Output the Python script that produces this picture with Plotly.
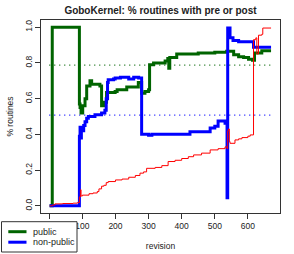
import plotly.graph_objects as go

# ---- data ----
public_rev = [1, 9, 91, 93, 96, 101, 108, 113, 123, 128, 153, 158, 165, 173, 183, 199, 205, 234,
              269, 279, 289, 300, 303, 315, 350, 358, 361, 364, 385, 450, 500, 536, 557, 572, 587,
              602, 614, 620, 642, 670]
public_pct = [0.0, 1.0, 0.57, 0.55, 0.52, 0.56, 0.60, 0.67, 0.70, 0.68, 0.67, 0.56, 0.58, 0.635,
              0.635, 0.64, 0.65, 0.665, 0.69, 0.63, 0.64, 0.65, 0.79, 0.80, 0.81, 0.825, 0.77, 0.83,
              0.85, 0.855, 0.86, 0.865, 0.845, 0.835, 0.83, 0.82, 0.815, 0.855, 0.868, 0.868]

nonpublic_rev = [1, 91, 93, 95, 97, 100, 104, 108, 113, 118, 138, 158, 168, 172, 176, 178, 194,
                 199, 215, 240, 255, 270, 279, 300, 310, 425, 486, 500, 510, 531, 537, 539, 546,
                 555, 572, 617, 670]
nonpublic_pct = [0.0, 0.39, 0.44, 0.38, 0.43, 0.42, 0.45, 0.47, 0.49, 0.50, 0.51, 0.52, 0.535,
                 0.60, 0.69, 0.705, 0.71, 0.715, 0.72, 0.71, 0.72, 0.715, 0.40, 0.395, 0.40, 0.415,
                 0.435, 0.445, 0.475, 0.462, 0.045, 0.995, 0.94, 0.925, 0.918, 0.887, 0.887]

all_rev = [1, 10, 17, 40, 72, 85, 91, 94, 96, 100, 108, 120, 132, 145, 150, 158, 165, 172, 178,
           200, 220, 240, 260, 274, 285, 294, 320, 340, 359, 380, 400, 420, 436, 460, 486, 510,
           531, 537, 539, 541, 544, 546, 561, 572, 582, 600, 607, 617, 624, 627, 632, 642, 645, 670]
all_pct = [0.0, 0.005, 0.011, 0.013, 0.015, 0.018, 0.05, 0.09, 0.055, 0.06, 0.06, 0.068, 0.072,
           0.08, 0.095, 0.11, 0.115, 0.13, 0.136, 0.145, 0.15, 0.16, 0.17, 0.183, 0.19, 0.21,
           0.215, 0.225, 0.248, 0.255, 0.265, 0.275, 0.285, 0.295, 0.313, 0.32, 0.33, 0.32,
           0.42, 0.43, 0.36, 0.35, 0.369, 0.375, 0.382, 0.39, 0.397, 0.93, 0.94, 0.85, 0.955,
           0.96, 0.995, 0.995]

public_mean = 0.788
nonpublic_mean = 0.508
mean_span = [0, 668]

x_ticks = [0, 100, 200, 300, 400, 500, 600]
x_tick_labels = ["", "100", "200", "300", "400", "500", "600"]  # "0" is hidden by the legend box
y_ticks = [0.0, 0.2, 0.4, 0.6, 0.8, 1.0]

series_names = ["public", "non-public"]

title_text = "GoboKernel: % routines with pre or post"
x_title = "revision"
y_title = "% routines"

# ---- style ----
GREEN = "#006400"
BLUE = "#0000ff"
RED = "#ff0000"
FONT = "Liberation Sans, Arial, sans-serif"
W, H = 294, 254
ML, MR, MT, MB = 41, 14, 20, 41
PW, PH = W - ML - MR, H - MT - MB


def px_x(px):
    return (px - ML) / PW


def px_y(py):
    return (H - MB - py) / PH


fig = go.Figure()
fig.add_trace(go.Scatter(x=mean_span, y=[public_mean] * 2, mode="lines",
                         line=dict(color=GREEN, width=1.2, dash="1px,4px"), showlegend=False))
fig.add_trace(go.Scatter(x=mean_span, y=[nonpublic_mean] * 2, mode="lines",
                         line=dict(color=BLUE, width=1.2, dash="1px,4px"), showlegend=False))
fig.add_trace(go.Scatter(x=public_rev, y=public_pct, mode="lines", name=series_names[0],
                         line=dict(color=GREEN, width=3, shape="hv"), showlegend=False))
fig.add_trace(go.Scatter(x=nonpublic_rev, y=nonpublic_pct, mode="lines", name=series_names[1],
                         line=dict(color=BLUE, width=3, shape="hv"), showlegend=False))
fig.add_trace(go.Scatter(x=all_rev, y=all_pct, mode="lines", name="all",
                         line=dict(color=RED, width=1, shape="hv"), showlegend=False))

# manual R-style legend box
shapes = [dict(type="rect", xref="paper", yref="paper",
               x0=px_x(1.5), x1=px_x(77), y0=px_y(252), y1=px_y(221.7),
               line=dict(color="#333333", width=1), fillcolor="white", layer="above")]
annotations = []
for i, (name, col) in enumerate(zip(series_names, [GREEN, BLUE])):
    yy = 231.7 + i * 10.5
    shapes.append(dict(type="line", xref="paper", yref="paper",
                       x0=px_x(8.3), x1=px_x(26.5), y0=px_y(yy), y1=px_y(yy),
                       line=dict(color=col, width=3), layer="above"))
    annotations.append(dict(text=name, xref="paper", yref="paper", x=px_x(31.5), y=px_y(yy),
                            xanchor="left", yanchor="middle", showarrow=False, borderpad=0,
                            font=dict(family=FONT, size=9, color="#222")))

axis_common = dict(showline=True, linecolor="#333333", linewidth=1, mirror=True,
                   ticks="outside", ticklen=5, tickcolor="#333333", showgrid=False,
                   zeroline=False, automargin=False,
                   tickfont=dict(family=FONT, size=8.5, color="#222"))

fig.update_layout(
    width=W, height=H,
    margin=dict(l=ML, r=MR, t=MT, b=MB, autoexpand=False),
    paper_bgcolor="white", plot_bgcolor="white",
    title=dict(text="<b>" + title_text + "</b>", x=160.5 / W,
               xanchor="center", y=1 - 10 / H, yanchor="middle",
               font=dict(family=FONT, size=10, color="#222")),
    xaxis=dict(range=[-25, 697], tickvals=x_ticks, ticktext=x_tick_labels, **axis_common,
               title=dict(text=x_title, standoff=12, font=dict(family=FONT, size=8.5, color="#222"))),
    yaxis=dict(range=[-0.04, 1.04], tickvals=y_ticks, tickformat=".1f", tickangle=-90,
               **axis_common,
               title=dict(text=y_title, standoff=8, font=dict(family=FONT, size=8.5, color="#222"))),
    shapes=shapes,
    annotations=annotations,
)

fig.write_html("out.html", config={"displayModeBar": False},
               post_script="document.body.style.margin='0';document.body.style.overflow='hidden';")
